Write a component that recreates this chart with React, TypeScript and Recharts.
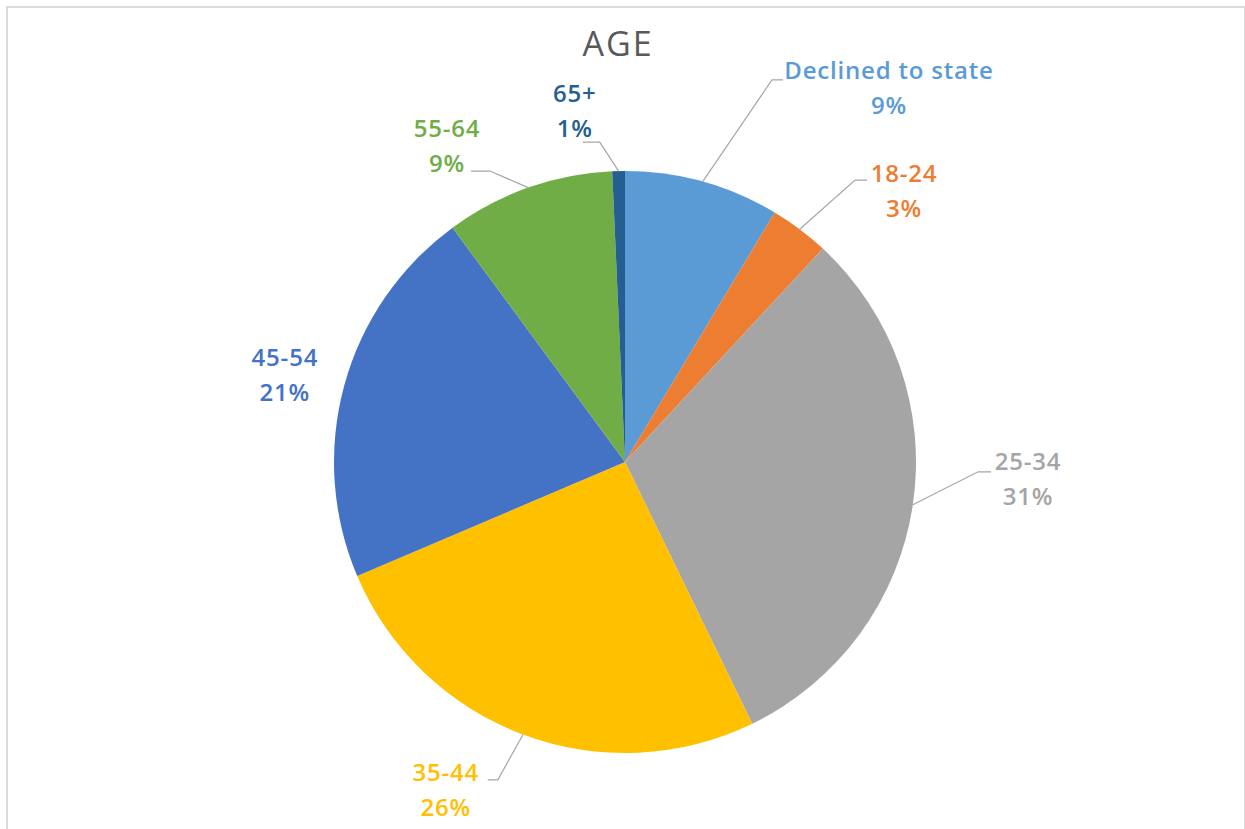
import React from 'react';
import { PieChart, Pie, Cell } from 'recharts';

// ---- data ----
const categories = ['Declined to state', '18-24', '25-34', '35-44', '45-54', '55-64', '65+'];
const shares = [8.6, 3.3, 30.9, 25.8, 21.3, 9.4, 0.7];
const colors = ['#5B9BD5', '#ED7D31', '#A5A5A5', '#FFC000', '#4472C4', '#70AD47', '#255E91'];
const title = 'AGE';

// ---- label layout (styling): angular shift (deg, clockwise), radial gap beyond pie edge,
// leader end offset from label centre, elbow length ----
const labelLayout: { shift: number; gap: number; end: [number, number] | null; elbow: number }[] = [
  { shift: 19.8, gap: 166, end: [-106, -9], elbow: -11 },
  { shift: 9.0, gap: 97.6, end: [-37, -11.5], elbow: -12 },
  { shift: -6.0, gap: 112.4, end: [-37, -7.5], elbow: -13 },
  { shift: 8.1, gap: 83.1, end: [42, -10.5], elbow: 10 },
  { shift: -1.0, gap: 60, end: null, elbow: 0 },
  { shift: -10.0, gap: 71.2, end: [24, 24.5], elbow: 19 },
  { shift: -6.9, gap: 63, end: [8, 30.5], elbow: 17 },
];

const data = categories.map((name, i) => ({ name, value: shares[i] }));

const RAD = Math.PI / 180;
const polar = (cx: number, cy: number, r: number, a: number) => ({
  x: cx + Math.cos(-a * RAD) * r,
  y: cy + Math.sin(-a * RAD) * r,
});

const FONT = '"Open Sans", "DejaVu Sans", sans-serif';

const renderLabel = (props: any) => {
  const { cx, cy, midAngle, outerRadius, percent, index } = props;
  const lay = labelLayout[index];
  const c = polar(cx, cy, outerRadius + lay.gap, midAngle - lay.shift);
  const color = colors[index];
  let leader = null;
  if (lay.end) {
    const s = polar(cx, cy, outerRadius, midAngle);
    const ex = c.x + lay.end[0];
    const ey = c.y + lay.end[1];
    const bx = ex + lay.elbow;
    leader = (
      <polyline
        points={`${s.x},${s.y} ${bx},${ey} ${ex},${ey}`}
        fill="none"
        stroke="#A6A6A6"
        strokeWidth={1.2}
      />
    );
  }
  return (
    <g key={`lbl-${index}`}>
      {leader}
      <text
        x={c.x}
        y={c.y - 9.5}
        textAnchor="middle"
        fill={color}
        fontFamily={FONT}
        fontWeight={600}
        fontSize={24}
        letterSpacing={0.8}
      >
        {categories[index]}
      </text>
      <text
        x={c.x}
        y={c.y + 25.5}
        textAnchor="middle"
        fill={color}
        fontFamily={FONT}
        fontWeight={600}
        fontSize={24}
        letterSpacing={0.8}
      >
        {`${Math.round(percent * 100)}%`}
      </text>
    </g>
  );
};

export default function App() {
  return (
    <div style={{ position: 'absolute', left: 0, top: 0, width: 1245, height: 829, background: '#fff', overflow: 'hidden' }}>
      <div
        style={{
          position: 'absolute',
          left: 6,
          top: 6,
          width: 1236,
          height: 840,
          border: '2px solid #dcdcdc',
          borderBottom: 'none',
        }}
      />
      <div style={{ position: 'absolute', left: 0, top: 0 }}>
        <PieChart width={1245} height={829} margin={{ top: 0, right: 0, bottom: 0, left: 0 }}>
          <Pie
            data={data}
            dataKey="value"
            nameKey="name"
            cx={625}
            cy={462}
            outerRadius={291}
            startAngle={90}
            endAngle={-270}
            stroke="none"
            label={renderLabel}
            labelLine={false}
            isAnimationActive={false}
          >
            {data.map((d, i) => (
              <Cell key={d.name} fill={colors[i]} />
            ))}
          </Pie>
        </PieChart>
      </div>
      <svg width={1245} height={829} style={{ position: 'absolute', left: 0, top: 0, pointerEvents: 'none' }}>
        <text x={618} y={56} textAnchor="middle" fill="#595959" fontFamily={FONT} fontSize={34} letterSpacing={2}>
          {title}
        </text>
      </svg>
    </div>
  );
}
